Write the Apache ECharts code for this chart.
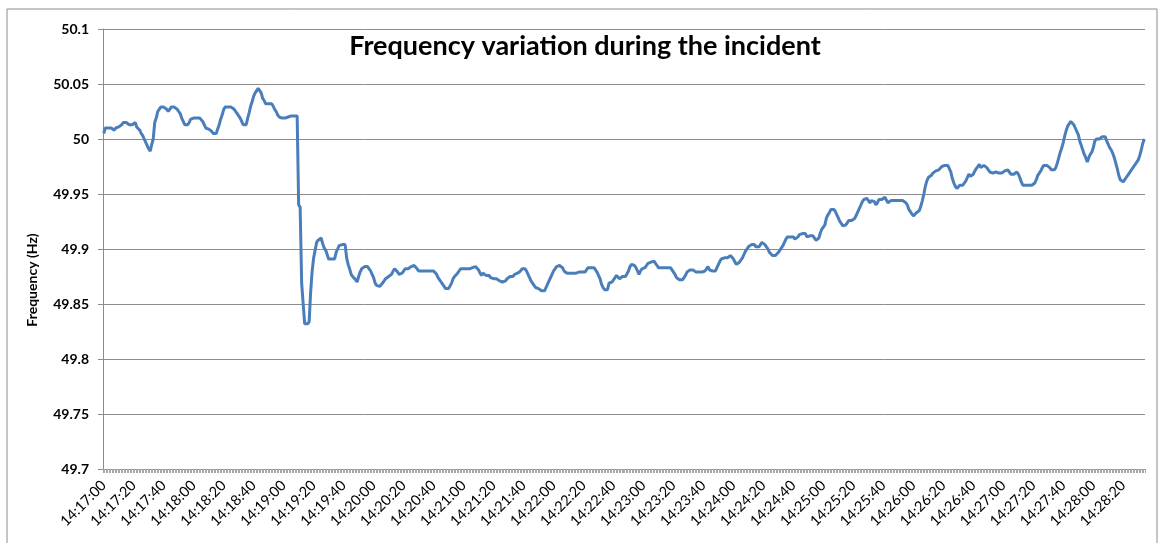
<!DOCTYPE html>
<html>
<head>
<meta charset="utf-8">
<script src="https://cdn.jsdelivr.net/npm/echarts/dist/echarts.min.js"></script>
<style>
  html, body { margin: 0; padding: 0; background: #fff; }
  #chart { width: 1163px; height: 543px; }
</style>
</head>
<body>
<div id="chart"></div>
<script>
// grid frequency, one reading per second from 14:17:00
const startTime = '14:17:00'
const labelEvery = 20 // seconds between time labels

const freq = [
  50.005, 50.010, 50.010, 50.010, 50.010, 50.010, 50.009, 50.008, 50.010, 50.010, 50.011, 50.011, 50.013, 50.015, 50.015, 50.015, 50.014, 50.013, 50.013, 50.013,
  50.013, 50.015, 50.011, 50.010, 50.008, 50.005, 50.003, 50.000, 49.997, 49.994, 49.991, 49.989, 49.995, 50.000, 50.015, 50.019, 50.025, 50.027, 50.029, 50.029,
  50.029, 50.029, 50.027, 50.025, 50.027, 50.029, 50.029, 50.029, 50.029, 50.027, 50.025, 50.023, 50.019, 50.016, 50.013, 50.012, 50.013, 50.015, 50.018, 50.019,
  50.019, 50.019, 50.019, 50.019, 50.019, 50.019, 50.016, 50.013, 50.010, 50.009, 50.009, 50.009, 50.007, 50.005, 50.005, 50.005, 50.009, 50.013, 50.018, 50.022,
  50.027, 50.029, 50.029, 50.029, 50.029, 50.029, 50.029, 50.027, 50.025, 50.023, 50.021, 50.019, 50.016, 50.013, 50.013, 50.013, 50.019, 50.024, 50.030, 50.034,
  50.039, 50.042, 50.044, 50.046, 50.045, 50.042, 50.037, 50.035, 50.032, 50.032, 50.032, 50.032, 50.032, 50.030, 50.027, 50.025, 50.022, 50.020, 50.019, 50.019,
  50.019, 50.019, 50.019, 50.020, 50.021, 50.021, 50.021, 50.021, 50.021, 50.021, 49.940, 49.938, 49.869, 49.868, 49.832, 49.832, 49.832, 49.834, 49.861, 49.880,
  49.892, 49.893, 49.906, 49.908, 49.909, 49.910, 49.905, 49.901, 49.899, 49.895, 49.891, 49.891, 49.891, 49.891, 49.891, 49.897, 49.900, 49.903, 49.904, 49.904,
  49.904, 49.904, 49.892, 49.886, 49.882, 49.877, 49.875, 49.874, 49.872, 49.870, 49.875, 49.879, 49.882, 49.883, 49.884, 49.885, 49.884, 49.882, 49.880, 49.877,
  49.874, 49.869, 49.867, 49.866, 49.866, 49.866, 49.869, 49.871, 49.873, 49.874, 49.875, 49.875, 49.877, 49.880, 49.882, 49.882, 49.879, 49.877, 49.876, 49.878,
  49.879, 49.882, 49.882, 49.882, 49.882, 49.884, 49.885, 49.885, 49.884, 49.882, 49.880, 49.879, 49.880, 49.880, 49.880, 49.880, 49.880, 49.880, 49.880, 49.880,
  49.880, 49.880, 49.877, 49.874, 49.872, 49.870, 49.868, 49.866, 49.864, 49.864, 49.864, 49.864, 49.869, 49.873, 49.875, 49.876, 49.878, 49.880, 49.882, 49.882,
  49.882, 49.882, 49.882, 49.882, 49.882, 49.882, 49.883, 49.883, 49.884, 49.885, 49.881, 49.878, 49.876, 49.878, 49.879, 49.876, 49.876, 49.876, 49.874, 49.874,
  49.873, 49.873, 49.873, 49.873, 49.871, 49.870, 49.870, 49.869, 49.871, 49.873, 49.874, 49.875, 49.875, 49.875, 49.877, 49.878, 49.878, 49.878, 49.880, 49.882,
  49.882, 49.882, 49.880, 49.877, 49.874, 49.871, 49.869, 49.867, 49.865, 49.864, 49.864, 49.863, 49.862, 49.862, 49.862, 49.865, 49.868, 49.871, 49.874, 49.877,
  49.880, 49.882, 49.884, 49.885, 49.885, 49.885, 49.883, 49.880, 49.879, 49.878, 49.878, 49.878, 49.878, 49.878, 49.878, 49.878, 49.878, 49.879, 49.879, 49.879,
  49.879, 49.879, 49.881, 49.883, 49.883, 49.883, 49.883, 49.883, 49.882, 49.879, 49.876, 49.873, 49.868, 49.865, 49.863, 49.863, 49.863, 49.869, 49.870, 49.870,
  49.872, 49.874, 49.876, 49.877, 49.873, 49.874, 49.875, 49.875, 49.875, 49.875, 49.880, 49.884, 49.886, 49.886, 49.885, 49.883, 49.880, 49.877, 49.880, 49.882,
  49.883, 49.883, 49.885, 49.887, 49.887, 49.888, 49.888, 49.889, 49.887, 49.885, 49.883, 49.883, 49.883, 49.883, 49.883, 49.883, 49.883, 49.883, 49.883, 49.881,
  49.880, 49.877, 49.874, 49.873, 49.872, 49.872, 49.872, 49.874, 49.876, 49.879, 49.880, 49.881, 49.881, 49.881, 49.880, 49.879, 49.879, 49.879, 49.879, 49.879,
  49.879, 49.880, 49.882, 49.884, 49.881, 49.880, 49.880, 49.880, 49.880, 49.883, 49.886, 49.889, 49.891, 49.892, 49.892, 49.892, 49.892, 49.892, 49.894, 49.895,
  49.891, 49.888, 49.886, 49.887, 49.888, 49.890, 49.892, 49.895, 49.898, 49.900, 49.902, 49.903, 49.904, 49.905, 49.904, 49.902, 49.902, 49.902, 49.904, 49.906,
  49.905, 49.904, 49.902, 49.900, 49.897, 49.896, 49.894, 49.894, 49.894, 49.895, 49.897, 49.899, 49.901, 49.903, 49.906, 49.909, 49.911, 49.911, 49.911, 49.911,
  49.911, 49.909, 49.908, 49.911, 49.913, 49.914, 49.914, 49.914, 49.914, 49.911, 49.910, 49.912, 49.912, 49.912, 49.912, 49.908, 49.907, 49.910, 49.915, 49.918,
  49.919, 49.922, 49.928, 49.931, 49.933, 49.936, 49.936, 49.936, 49.934, 49.931, 49.928, 49.925, 49.923, 49.921, 49.920, 49.922, 49.924, 49.926, 49.926, 49.926,
  49.927, 49.928, 49.931, 49.934, 49.937, 49.940, 49.943, 49.945, 49.946, 49.946, 49.944, 49.942, 49.944, 49.945, 49.943, 49.940, 49.942, 49.945, 49.945, 49.945,
  49.946, 49.947, 49.948, 49.942, 49.943, 49.944, 49.944, 49.944, 49.944, 49.944, 49.944, 49.944, 49.944, 49.944, 49.944, 49.942, 49.940, 49.936, 49.934, 49.932,
  49.930, 49.931, 49.933, 49.934, 49.935, 49.939, 49.944, 49.950, 49.957, 49.962, 49.965, 49.966, 49.967, 49.969, 49.970, 49.971, 49.972, 49.972, 49.973, 49.975,
  49.976, 49.976, 49.976, 49.976, 49.976, 49.970, 49.964, 49.960, 49.957, 49.955, 49.956, 49.958, 49.958, 49.958, 49.960, 49.962, 49.965, 49.968, 49.966, 49.965,
  49.968, 49.971, 49.973, 49.975, 49.977, 49.974, 49.973, 49.976, 49.975, 49.974, 49.972, 49.970, 49.969, 49.969, 49.969, 49.970, 49.970, 49.969, 49.969, 49.969,
  49.969, 49.971, 49.972, 49.972, 49.972, 49.968, 49.967, 49.968, 49.969, 49.970, 49.968, 49.965, 49.961, 49.958, 49.958, 49.958, 49.958, 49.958, 49.958, 49.958,
  49.958, 49.960, 49.963, 49.967, 49.969, 49.971, 49.974, 49.976, 49.976, 49.976, 49.975, 49.974, 49.972, 49.971, 49.972, 49.974, 49.978, 49.983, 49.988, 49.992,
  49.997, 50.003, 50.008, 50.012, 50.014, 50.016, 50.017, 50.013, 50.010, 50.007, 50.004, 49.998, 49.994, 49.990, 49.986, 49.983, 49.979, 49.983, 49.986, 49.988,
  49.992, 49.998, 50.000, 50.000, 50.000, 50.000, 50.002, 50.002, 50.002, 49.998, 49.995, 49.992, 49.990, 49.987, 49.983, 49.978, 49.973, 49.967, 49.963, 49.962,
  49.961, 49.961, 49.965, 49.967, 49.969, 49.971, 49.972, 49.975, 49.977, 49.979, 49.981, 49.985, 49.990, 49.996, 50.000
]

// hh:mm:ss labels, one per reading
const pad = n => String(n).padStart(2, '0')
const [h0, m0, s0] = startTime.split(':').map(Number)
const times = freq.map((_, i) => {
  const t = h0 * 3600 + m0 * 60 + s0 + i
  return pad(Math.floor(t / 3600)) + ':' + pad(Math.floor(t / 60) % 60) + ':' + pad(t % 60)
})

const chart = echarts.init(document.getElementById('chart'))

chart.setOption({
  animation: false,
  textStyle: { fontFamily: 'Lato, sans-serif' },
  grid: { left: 103, right: 18, top: 29, bottom: 74 },
  graphic: [
    {
      type: 'rect',
      shape: { x: 7, y: 9, width: 1150, height: 560 },
      style: { fill: 'none', stroke: '#8c8c8c', lineWidth: 1 }
    },
    {
      type: 'text',
      x: 585,
      y: 46,
      style: {
        text: 'Frequency variation during the incident',
        font: 'bold 27px Lato, sans-serif',
        fill: '#000',
        align: 'center',
        verticalAlign: 'middle'
      }
    },
    {
      type: 'text',
      x: 32,
      y: 280,
      rotation: Math.PI / 2,
      style: {
        text: 'Frequency (Hz)',
        font: 'bold 14px Lato, sans-serif',
        fill: '#000',
        align: 'center',
        verticalAlign: 'middle'
      }
    }
  ],
  xAxis: {
    type: 'category',
    data: times,
    boundaryGap: true,
    axisLine: { lineStyle: { color: '#8c8c8c', width: 1 } },
    axisTick: { show: true, interval: 0, length: 4, lineStyle: { color: '#a6a6a6' } },
    axisLabel: {
      interval: labelEvery - 1,
      rotate: 45,
      margin: 14,
      fontSize: 14.5,
      color: '#000'
    },
    splitLine: { show: false }
  },
  yAxis: {
    type: 'value',
    min: 49.7,
    max: 50.1,
    interval: 0.05,
    axisLine: { show: true, lineStyle: { color: '#8c8c8c' } },
    axisTick: { show: true, length: 5, inside: false, lineStyle: { color: '#8c8c8c' } },
    axisLabel: {
      margin: 14,
      fontSize: 14,
      fontWeight: 'bold',
      color: '#000',
      formatter: v => String(+v.toFixed(2))
    },
    splitLine: { lineStyle: { color: '#8c8c8c', width: 1 } }
  },
  series: [
    {
      type: 'line',
      data: freq,
      showSymbol: false,
      lineStyle: { color: '#4a7ebb', width: 3 },
      itemStyle: { color: '#4a7ebb' }
    }
  ]
})
</script>
</body>
</html>
